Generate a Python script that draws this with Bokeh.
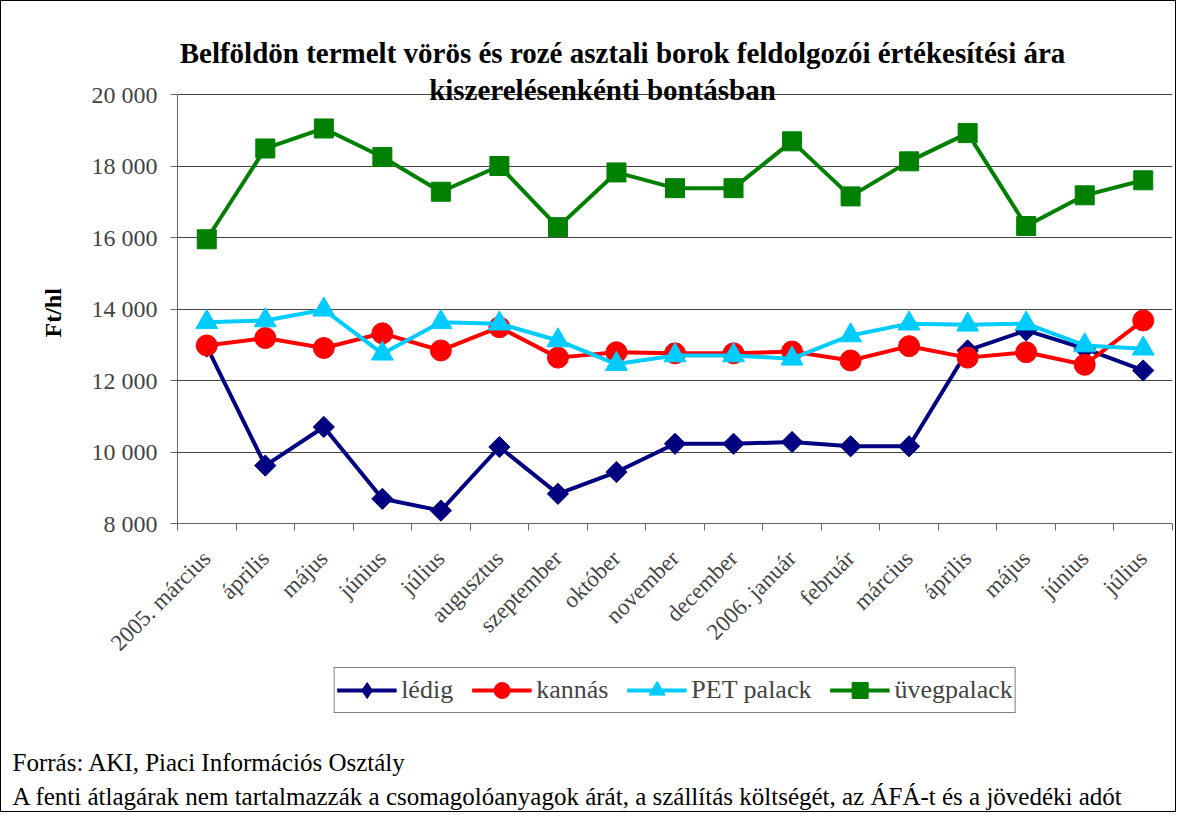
import math
from bokeh.plotting import figure
from bokeh.layouts import column
from bokeh.models import Range1d, FixedTicker, Legend, LegendItem, Label, LinearAxis, Title
from bokeh.embed import file_html
from bokeh.resources import INLINE

months = ["2005. március", "április", "május", "június", "július", "augusztus",
          "szeptember", "október", "november", "december", "2006. január",
          "február", "március", "április", "május", "június", "július"]
ledig = [12950, 9620, 10700, 8690, 8360, 10140, 8830, 9440, 10230, 10230,
         10280, 10160, 10160, 12840, 13400, 12890, 12280]
kannas = [12980, 13190, 12910, 13320, 12840, 13490, 12640, 12790, 12760, 12760,
          12810, 12560, 12960, 12640, 12790, 12440, 13680]
pet = [13630, 13680, 13980, 12750, 13630, 13590, 13120, 12460, 12700, 12700,
       12610, 13260, 13590, 13560, 13590, 12980, 12890]
uveg = [15950, 18490, 19050, 18250, 17280, 18000, 16290, 17820, 17380, 17380,
        18690, 17150, 18130, 18920, 16320, 17180, 17600]
y_ticks = [8000, 10000, 12000, 14000, 16000, 18000, 20000]
series_names = ["lédig", "kannás", "PET palack", "üvegpalack"]
title_lines = ["Belföldön termelt vörös és rozé asztali borok feldolgozói értékesítési ára",
               "kiszerelésenkénti bontásban"]
y_label = "Ft/hl"
notes = ["Forrás: AKI, Piaci Információs Osztály",
         "A fenti átlagárak nem tartalmazzák a csomagolóanyagok árát, a szállítás költségét, az ÁFÁ-t és a jövedéki adót"]

FONT = "Liberation Serif"
idx = list(range(len(months)))
n = len(months)

# ---- layout (pixels) ----
LEFT, RIGHT, TOP = 176, 3, 24
PLOT_H = 429          # height of the 8 000 .. 20 000 value band
HEAD = 69             # room for the title above the 20 000 line (inside the frame)
FRAME_W = 995
y_lo, y_hi = y_ticks[0], y_ticks[-1]
y_top = y_hi + HEAD * (y_hi - y_lo) / PLOT_H

p = figure(frame_width=FRAME_W, frame_height=PLOT_H + HEAD, output_backend="svg",
           toolbar_location=None, x_range=Range1d(-0.5, n - 0.5), y_range=Range1d(y_lo, y_top),
           x_axis_location=None, y_axis_location=None,
           min_border_left=LEFT, min_border_right=RIGHT, min_border_top=TOP, min_border_bottom=0)
p.outline_line_color = None
p.background_fill_color = "white"
p.border_fill_color = "white"

# y axis (only spans 8 000 .. 20 000)
yax = LinearAxis(ticker=FixedTicker(ticks=y_ticks, minor_ticks=[]), bounds=(y_lo, y_hi),
                 major_label_overrides={v: f"{v:,}".replace(",", " ") for v in y_ticks})
yax.major_label_text_font = FONT
yax.major_label_text_font_size = "24px"
yax.major_label_standoff = 13
yax.major_tick_out = 7
yax.major_tick_in = 0
yax.axis_line_color = "#666666"
yax.major_tick_line_color = "#666666"
p.add_layout(yax, "left")
# axis title, centred on the 8 000 .. 20 000 band
p.add_layout(Title(text=y_label, align="left", offset=186, text_font=FONT,
                   text_font_style="bold", text_font_size="24px", text_color="black",
                   standoff=45), "left")

# x axis: labels at categories, tick marks between categories
xax = LinearAxis(ticker=FixedTicker(ticks=idx, minor_ticks=[i - 0.5 for i in range(n + 1)]),
                 major_label_overrides={i: m for i, m in enumerate(months)})
xax.major_label_orientation = math.pi / 4
xax.major_label_text_font = FONT
xax.major_label_text_font_size = "23px"
xax.major_label_standoff = 24
xax.major_tick_out = 0
xax.major_tick_in = 0
xax.minor_tick_out = 7
xax.minor_tick_in = 0
xax.axis_line_color = "#666666"
xax.minor_tick_line_color = "#666666"
p.add_layout(xax, "below")

p.ygrid.ticker = FixedTicker(ticks=y_ticks)
p.ygrid.grid_line_color = "#444444"
p.xgrid.grid_line_color = None

colors = ["#000080", "#FF0000", "#00CCFF", "#008000"]
markers = ["square", "circle", "triangle", "square"]
angles = [math.pi / 4, 0, 0, 0]
sizes = [15, 21, 22, 19]
data = [ledig, kannas, pet, uveg]
for vals, c, m, a, s in zip(data, colors, markers, angles, sizes):
    p.line(idx, vals, line_color=c, line_width=4)
    p.scatter(idx, vals, marker=m, angle=a, size=s, fill_color=c, line_color=c)

# chart title (inside the frame, above / across the 20 000 line)
for t, x, y in zip(title_lines, [445, 425], [471, 434]):
    p.add_layout(Label(x=x, y=y, x_units="screen", y_units="screen",
                       text=t, text_align="center", text_baseline="middle", text_font=FONT,
                       text_font_style="bold", text_font_size="29px", text_color="black"))

# ---- lower strip: legend and notes ----
p2 = figure(frame_width=FRAME_W, frame_height=76, output_backend="svg",
            toolbar_location=None, x_range=Range1d(-0.5, n - 0.5), y_range=Range1d(0, 1),
            x_axis_location=None, y_axis_location=None,
            min_border_left=LEFT, min_border_right=RIGHT, min_border_top=0, min_border_bottom=0)
p2.outline_line_color = None
p2.grid.visible = False
p2.background_fill_color = "white"
p2.border_fill_color = "white"

legend_markers = ["diamond", "circle", "triangle", "square"]
items = []
for name, vals, c, m in zip(series_names, data, colors, legend_markers):
    # same series, outside this strip's visible range: only their legend keys show
    r1 = p2.line(idx, vals, line_color=c, line_width=4)
    r2 = p2.scatter(idx, vals, marker=m, fill_color=c, line_color=c)
    items.append(LegendItem(label=name, renderers=[r1, r2]))

legend = Legend(items=items, orientation="horizontal", location="top_center")
legend.label_text_font = FONT
legend.label_text_font_size = "26px"
legend.glyph_width = 60
legend.glyph_height = 40
legend.label_standoff = 5
legend.spacing = 18
legend.padding = 2
legend.margin = 0
legend.border_line_color = "black"
legend.border_line_width = 1
p2.add_layout(legend, "center")

for k, t in enumerate(notes):
    p2.add_layout(Title(text=t, align="left", offset=-165, text_font=FONT,
                        text_font_style="normal", text_font_size="25px",
                        text_color="black", standoff=(6 if k == 0 else 4)), "below")

layout = column(p, p2, spacing=0, styles={"border": "1px solid black"})
open("out.html", "w").write(file_html(layout, INLINE))
